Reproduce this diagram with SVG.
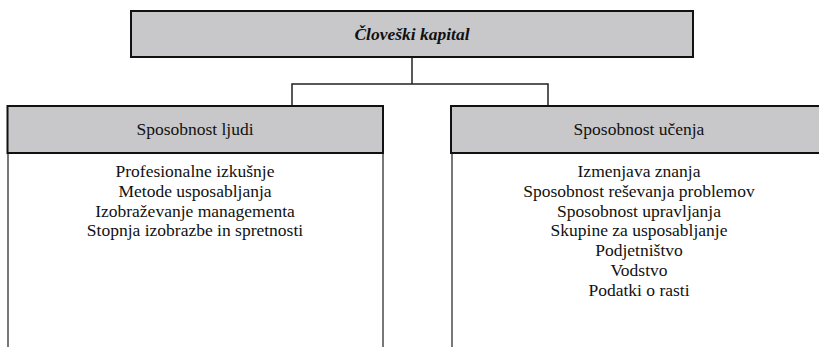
<svg xmlns="http://www.w3.org/2000/svg" width="819" height="347" viewBox="0 0 819 347">
  <style>
    .hdr { fill: #c8c8ca; stroke: #111; stroke-width: 2; }
    .side { stroke: #555; stroke-width: 1.6; fill: none; }
    .conn { stroke: #222; stroke-width: 1.5; fill: none; }
    text { font-family: "Liberation Serif", "Times New Roman", serif; font-size: 17.5px; fill: #111; text-anchor: middle; }
    .title { font-weight: bold; font-style: italic; }
  </style>
  <rect width="819" height="347" fill="#ffffff"/>

  <g id="connectors">
    <line class="conn" x1="412" y1="57" x2="412" y2="84"/>
    <polyline class="conn" points="292,106 292,84 548,84 548,106"/>
  </g>

  <g id="cloveski-kapital">
    <rect class="hdr" x="131" y="11" width="562" height="46"/>
    <text class="title" x="412" y="40">Človeški kapital</text>
  </g>

  <g id="sposobnost-ljudi">
    <line class="side" x1="8" y1="153" x2="8" y2="347"/>
    <line class="side" x1="383" y1="153" x2="383" y2="347"/>
    <rect class="hdr" x="7.5" y="106" width="375.5" height="47"/>
    <text x="195" y="135">Sposobnost ljudi</text>
    <text x="195" y="177">Profesionalne izkušnje</text>
    <text x="195" y="196.8">Metode usposabljanja</text>
    <text x="195" y="216.6">Izobraževanje managementa</text>
    <text x="195" y="236.4">Stopnja izobrazbe in spretnosti</text>
  </g>

  <g id="sposobnost-ucenja">
    <line class="side" x1="452" y1="153" x2="452" y2="347"/>
    <rect class="hdr" x="451" y="106" width="400" height="47"/>
    <text x="639" y="135">Sposobnost učenja</text>
    <text x="639" y="177">Izmenjava znanja</text>
    <text x="639" y="196.8">Sposobnost reševanja problemov</text>
    <text x="639" y="216.6">Sposobnost upravljanja</text>
    <text x="639" y="236.4">Skupine za usposabljanje</text>
    <text x="639" y="256.2">Podjetništvo</text>
    <text x="639" y="276">Vodstvo</text>
    <text x="639" y="295.8">Podatki o rasti</text>
  </g>
</svg>
